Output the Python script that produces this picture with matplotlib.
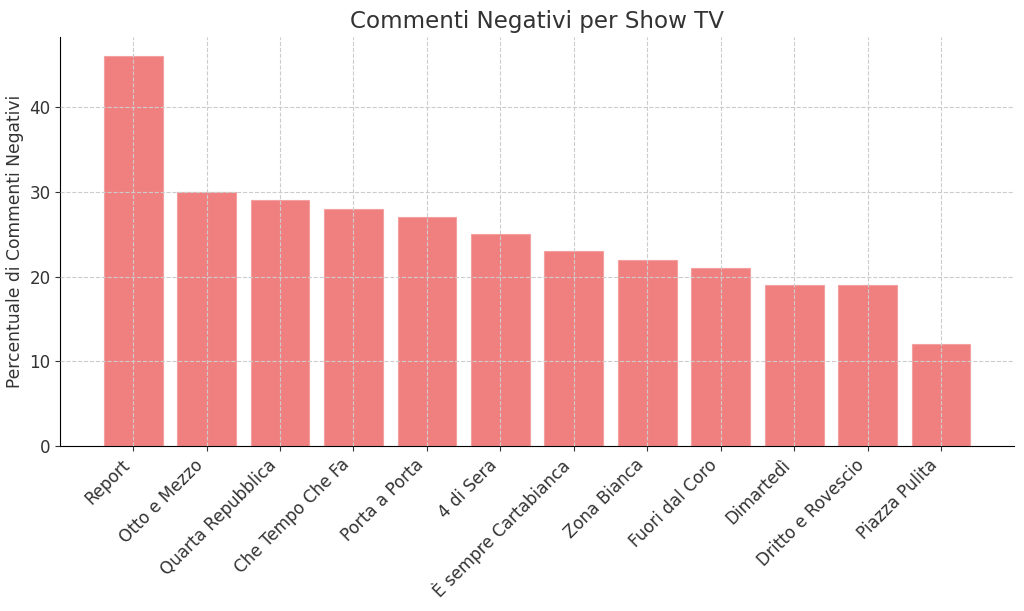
import matplotlib.pyplot as plt

shows = ['Report', 'Otto e Mezzo', 'Quarta Repubblica', 'Che Tempo Che Fa',
         'Porta a Porta', '4 di Sera', 'È sempre Cartabianca', 'Zona Bianca',
         'Fuori dal Coro', 'Dimartedì', 'Dritto e Rovescio', 'Piazza Pulita']
negativi = [46, 30, 29, 28, 27, 25, 23, 22, 21, 19, 19, 12]

fig, ax = plt.subplots(figsize=(10.24, 6.11), dpi=100)
ax.bar(shows, negativi, color='#F08080', edgecolor='#F5A0A0', linewidth=0.8, zorder=2)
ax.grid(True, linestyle='--', color='#cccccc', linewidth=0.8, zorder=3)
ax.set_axisbelow(False)

ax.set_title("Commenti Negativi per Show TV", fontsize=16.6, color='#333333')
ax.set_ylabel("Percentuale di Commenti Negativi", fontsize=12.3, color='#333333')
ax.tick_params(labelsize=12.1, colors='#333333')
plt.setp(ax.get_xticklabels(), rotation=45, ha='right')
ax.spines['top'].set_visible(False)
ax.spines['right'].set_visible(False)

fig.subplots_adjust(left=0.059, right=0.99, top=0.94, bottom=0.27)
fig.savefig('out.png', dpi=100)
